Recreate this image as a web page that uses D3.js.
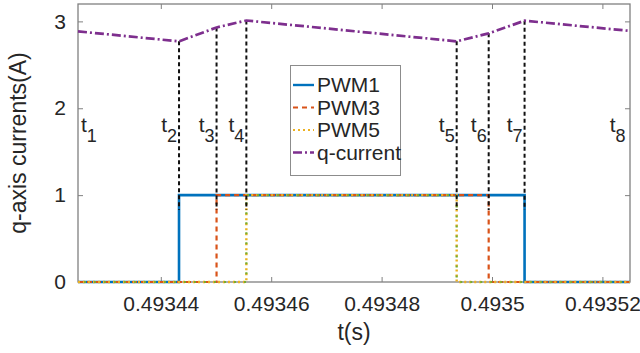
<!DOCTYPE html>
<html>
<head>
<meta charset="utf-8">
<script src="https://cdn.jsdelivr.net/npm/d3@7"></script>
<style>
  html, body { margin: 0; padding: 0; background: #fff; }
  svg { display: block; font-family: "Liberation Sans", Arial, sans-serif; }
</style>
</head>
<body>
<svg id="chart" width="640" height="353"></svg>
<script>
// ---- data ----
const xTickValues = [0.49344, 0.49346, 0.49348, 0.4935, 0.49352];
const xTickLabels = ["0.49344", "0.49346", "0.49348", "0.4935", "0.49352"];
const yTickValues = [0, 1, 2, 3];
const yTickLabels = ["0", "1", "2", "3"];

const tStart = 0.493425, tEnd = 0.493525;
// switching instants t2..t7
const eventTimes = [0.4934433, 0.4934501, 0.4934555, 0.4934936, 0.4934994, 0.4935059];
const eventNames = ["2", "3", "4", "5", "6", "7"];
// outer labels t1, t8 (right edge of label)
const outerLabelTimes = [0.4934284, 0.4935242];
const outerLabelNames = ["1", "8"];

const pwmTimes = [tStart, 0.4934433, 0.4934501, 0.4934555, 0.4934936, 0.4934994, 0.4935059, tEnd];
const pwm1 = [0, 1, 1, 1, 1, 1, 0, 0];
const pwm3 = [0, 0, 1, 1, 1, 0, 0, 0];
const pwm5 = [0, 0, 0, 1, 0, 0, 0, 0];
const pwmExtra = [0, 0, 0, 1, 0, 0, 0, 0];

const qTimes = [tStart, 0.4934433, 0.4934501, 0.4934555, 0.4934936, 0.4934994, 0.4935059, tEnd];
const qCurrent = [2.885, 2.77, 2.93, 3.01, 2.77, 2.862, 3.008, 2.89];
const guideBottom = 0.83;

const legendNames = ["PWM1", "PWM3", "PWM5", "q-current"];

// ---- layout ----
const svg = d3.select("#chart");
const L = 78, R = 630, T = 4, B = 282;
const x = d3.scaleLinear().domain([tStart, tEnd]).range([L, R]);
const y = d3.scaleLinear().domain([0, 3.2]).range([B, T]);
const txt = "#262626";
const axisCol = "#808080";

const g = svg.append("g");

// axes (ticks inside)
const xAxisB = d3.axisBottom(x).tickValues(xTickValues).tickSize(-5).tickFormat((d, i) => xTickLabels[i]).tickPadding(14);
const xAxisT = d3.axisTop(x).tickValues(xTickValues).tickSize(-5).tickFormat("");
const yAxisL = d3.axisLeft(y).tickValues(yTickValues).tickSize(-5).tickFormat((d, i) => yTickLabels[i]).tickPadding(12);
const yAxisR = d3.axisRight(y).tickValues(yTickValues).tickSize(-5).tickFormat("");

function styleAxis(sel) {
  sel.select(".domain").remove();
  sel.selectAll(".tick line").attr("stroke", axisCol).attr("stroke-width", 1);
  sel.selectAll(".tick text").attr("fill", txt).style("font-size", "21px").style("font-family", "'Liberation Sans', Arial, sans-serif");
}
g.append("g").attr("transform", `translate(0,${B})`).call(xAxisB).call(styleAxis);
g.append("g").attr("transform", `translate(0,${T})`).call(xAxisT).call(styleAxis);
g.append("g").attr("transform", `translate(${L},0)`).call(yAxisL).call(styleAxis);
g.append("g").attr("transform", `translate(${R},0)`).call(yAxisR).call(styleAxis);

// box
g.append("rect").attr("x", L).attr("y", T).attr("width", R - L).attr("height", B - T)
  .attr("fill", "none").attr("stroke", axisCol).attr("stroke-width", 1.3);

// axis labels
svg.append("text").attr("x", 354).attr("y", 340).attr("text-anchor", "middle")
  .attr("fill", txt).style("font-size", "23px").text("t(s)");
svg.append("text").attr("transform", `translate(26,${(T + B) / 2}) rotate(-90)`).attr("text-anchor", "middle")
  .attr("fill", txt).style("font-size", "23px").text("q-axis currents(A)");

// lines
const stepLine = d3.line().x(d => x(d[0])).y(d => y(d[1])).curve(d3.curveStepAfter);
const zipT = (ts, vs) => ts.map((t, i) => [t, vs[i]]);

const plot = g.append("g");
plot.append("path").datum(zipT(pwmTimes, pwm1)).attr("d", stepLine)
  .attr("fill", "none").attr("stroke", "#0072BD").attr("stroke-width", 2.6);
plot.append("path").datum(zipT(pwmTimes, pwm3)).attr("d", stepLine)
  .attr("fill", "none").attr("stroke", "#D95319").attr("stroke-width", 2.2).attr("stroke-dasharray", "5,4");
plot.append("path").datum(zipT(pwmTimes, pwm5)).attr("d", stepLine)
  .attr("fill", "none").attr("stroke", "#EDB120").attr("stroke-width", 2.4).attr("stroke-dasharray", "2,3");
plot.append("path").datum(zipT(pwmTimes, pwmExtra)).attr("d", stepLine)
  .attr("fill", "none").attr("stroke", "#77AC30").attr("stroke-width", 2.2).attr("stroke-dasharray", "2,8").attr("stroke-dashoffset", 4);

// guide lines (black dashed)
const qAt = t => qCurrent[qTimes.indexOf(t)];
plot.selectAll(".guide").data(eventTimes).enter().append("line")
  .attr("x1", d => x(d)).attr("x2", d => x(d))
  .attr("y1", d => y(qAt(d))).attr("y2", y(guideBottom))
  .attr("stroke", "#111").attr("stroke-width", 2).attr("stroke-dasharray", "4,3");

// q-current
const qLine = d3.line().x(d => x(d[0])).y(d => y(d[1]));
plot.append("path").datum(zipT(qTimes, qCurrent)).attr("d", qLine)
  .attr("fill", "none").attr("stroke", "#7E2F8E").attr("stroke-width", 2.7).attr("stroke-dasharray", "9,3,2,3");

// t labels
function tLabel(xEnd, name) {
  const t = svg.append("text").attr("x", xEnd).attr("y", y(1.73)).attr("text-anchor", "end")
    .attr("fill", txt).style("font-size", "21px");
  t.append("tspan").text("t");
  t.append("tspan").attr("dy", 10).attr("dx", 0).style("font-size", "18px").text(name);
}
eventTimes.forEach((t, i) => tLabel(x(t) - 2, eventNames[i]));
outerLabelTimes.forEach((t, i) => tLabel(x(t), outerLabelNames[i]));

// legend
const lg = svg.append("g");
lg.append("rect").attr("x", 290.5).attr("y", 65.5).attr("width", 110).attr("height", 110)
  .attr("fill", "#fff").attr("stroke", "#8c8c8c").attr("stroke-width", 1);
const legStyles = [
  { c: "#0072BD", d: null, w: 2.4 },
  { c: "#D95319", d: "5,4", w: 2 },
  { c: "#EDB120", d: "2,3", w: 2.2 },
  { c: "#7E2F8E", d: "9,3,2,3", w: 2.6 }
];
legendNames.forEach((n, i) => {
  const by = 92 + i * 22.5;
  const ly = by - 7;
  const ln = lg.append("line").attr("x1", 293).attr("x2", 314).attr("y1", ly).attr("y2", ly)
    .attr("stroke", legStyles[i].c).attr("stroke-width", legStyles[i].w);
  if (legStyles[i].d) ln.attr("stroke-dasharray", legStyles[i].d);
  lg.append("text").attr("x", 317).attr("y", by).attr("fill", txt).style("font-size", "21px").text(n);
});
</script>
</body>
</html>
